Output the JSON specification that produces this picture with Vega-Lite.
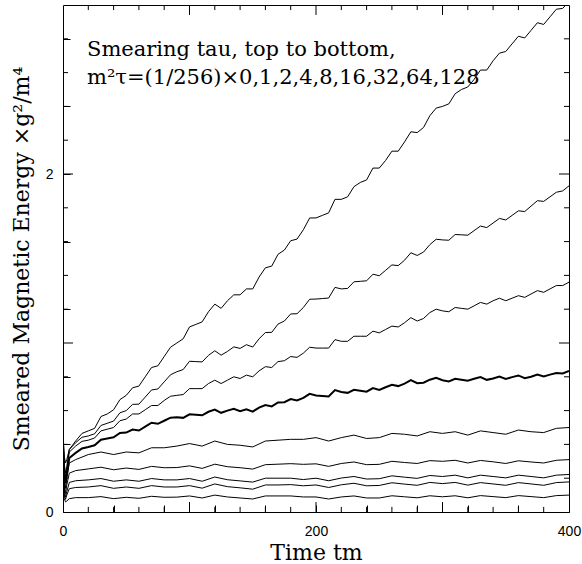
{
"$schema": "https://vega.github.io/schema/vega-lite/v6.json",
"width": 506, "height": 507,
"autosize": "none",
"padding": {"left": 63, "top": 5, "right": 13, "bottom": 52},
"background": "white",
"config": {"view": {"stroke": "black", "strokeWidth": 1}, "axis": {"grid": false, "domainColor": "black", "domainWidth": 1, "tickColor": "black", "tickWidth": 1, "labelColor": "black", "titleColor": "black", "labelFont": "Liberation Sans", "labelFontSize": 14, "titleFont": "DejaVu Serif", "titleFontSize": 22, "titleFontWeight": "normal", "labelFlush": false, "labelOverlap": false}},
"datasets": {
"xmajor": [{"t":100},{"t":200},{"t":300}],
"xminor": [{"t":20},{"t":40},{"t":60},{"t":80},{"t":120},{"t":140},{"t":160},{"t":180},{"t":220},{"t":240},{"t":260},{"t":280},{"t":320},{"t":340},{"t":360},{"t":380}],
"ymajor": [{"v":1},{"v":2}],
"yminor": [{"v":0.2},{"v":0.4},{"v":0.6},{"v":0.8},{"v":1.2},{"v":1.4},{"v":1.6},{"v":1.8},{"v":2.2},{"v":2.4},{"v":2.6},{"v":2.8}]
},
"data": {"values": [
{"c":1,"t":0,"v":0.44},{"c":1,"t":1,"v":0.33},{"c":1,"t":2,"v":0.29},{"c":1,"t":3,"v":0.31},{"c":1,"t":5,"v":0.37},{"c":1,"t":10,"v":0.42},{"c":1,"t":15,"v":0.465},{"c":1,"t":20,"v":0.48},{"c":1,"t":25,"v":0.495},{"c":1,"t":30,"v":0.565},{"c":1,"t":35,"v":0.58},{"c":1,"t":40,"v":0.605},{"c":1,"t":45,"v":0.665},{"c":1,"t":50,"v":0.69},{"c":1,"t":55,"v":0.735},{"c":1,"t":60,"v":0.745},{"c":1,"t":65,"v":0.80},{"c":1,"t":70,"v":0.855},{"c":1,"t":75,"v":0.865},{"c":1,"t":80,"v":0.92},{"c":1,"t":85,"v":0.975},{"c":1,"t":90,"v":1.0},{"c":1,"t":95,"v":1.025},{"c":1,"t":100,"v":1.095},{"c":1,"t":105,"v":1.11},{"c":1,"t":110,"v":1.125},{"c":1,"t":115,"v":1.185},{"c":1,"t":120,"v":1.23},{"c":1,"t":125,"v":1.205},{"c":1,"t":130,"v":1.25},{"c":1,"t":135,"v":1.285},{"c":1,"t":140,"v":1.285},{"c":1,"t":145,"v":1.32},{"c":1,"t":150,"v":1.32},{"c":1,"t":155,"v":1.39},{"c":1,"t":160,"v":1.445},{"c":1,"t":165,"v":1.455},{"c":1,"t":170,"v":1.525},{"c":1,"t":175,"v":1.55},{"c":1,"t":180,"v":1.605},{"c":1,"t":185,"v":1.615},{"c":1,"t":190,"v":1.67},{"c":1,"t":195,"v":1.74},{"c":1,"t":200,"v":1.74},{"c":1,"t":205,"v":1.755},{"c":1,"t":210,"v":1.77},{"c":1,"t":215,"v":1.85},{"c":1,"t":220,"v":1.85},{"c":1,"t":225,"v":1.865},{"c":1,"t":230,"v":1.925},{"c":1,"t":235,"v":1.95},{"c":1,"t":240,"v":1.965},{"c":1,"t":245,"v":2.035},{"c":1,"t":250,"v":2.035},{"c":1,"t":255,"v":2.08},{"c":1,"t":260,"v":2.135},{"c":1,"t":265,"v":2.135},{"c":1,"t":270,"v":2.19},{"c":1,"t":275,"v":2.25},{"c":1,"t":280,"v":2.245},{"c":1,"t":285,"v":2.275},{"c":1,"t":290,"v":2.345},{"c":1,"t":295,"v":2.39},{"c":1,"t":300,"v":2.4},{"c":1,"t":305,"v":2.415},{"c":1,"t":310,"v":2.475},{"c":1,"t":315,"v":2.5},{"c":1,"t":320,"v":2.515},{"c":1,"t":325,"v":2.56},{"c":1,"t":330,"v":2.615},{"c":1,"t":335,"v":2.615},{"c":1,"t":340,"v":2.67},{"c":1,"t":345,"v":2.715},{"c":1,"t":350,"v":2.725},{"c":1,"t":355,"v":2.77},{"c":1,"t":360,"v":2.815},{"c":1,"t":365,"v":2.805},{"c":1,"t":370,"v":2.85},{"c":1,"t":375,"v":2.895},{"c":1,"t":380,"v":2.885},{"c":1,"t":385,"v":2.93},{"c":1,"t":390,"v":2.975},{"c":1,"t":395,"v":2.98},{"c":1,"t":400,"v":3.02},
{"c":2,"t":0,"v":0.43},{"c":2,"t":1,"v":0.28},{"c":2,"t":2,"v":0.23},{"c":2,"t":3,"v":0.27},{"c":2,"t":5,"v":0.37},{"c":2,"t":10,"v":0.41},{"c":2,"t":15,"v":0.442},{"c":2,"t":20,"v":0.45},{"c":2,"t":25,"v":0.463},{"c":2,"t":30,"v":0.512},{"c":2,"t":35,"v":0.525},{"c":2,"t":40,"v":0.538},{"c":2,"t":45,"v":0.587},{"c":2,"t":50,"v":0.6},{"c":2,"t":55,"v":0.637},{"c":2,"t":60,"v":0.638},{"c":2,"t":65,"v":0.68},{"c":2,"t":70,"v":0.722},{"c":2,"t":75,"v":0.728},{"c":2,"t":80,"v":0.77},{"c":2,"t":85,"v":0.812},{"c":2,"t":90,"v":0.83},{"c":2,"t":95,"v":0.843},{"c":2,"t":100,"v":0.892},{"c":2,"t":105,"v":0.89},{"c":2,"t":110,"v":0.888},{"c":2,"t":115,"v":0.927},{"c":2,"t":120,"v":0.954},{"c":2,"t":125,"v":0.928},{"c":2,"t":130,"v":0.95},{"c":2,"t":135,"v":0.977},{"c":2,"t":140,"v":0.968},{"c":2,"t":145,"v":0.99},{"c":2,"t":150,"v":0.976},{"c":2,"t":155,"v":1.025},{"c":2,"t":160,"v":1.062},{"c":2,"t":165,"v":1.063},{"c":2,"t":170,"v":1.112},{"c":2,"t":175,"v":1.13},{"c":2,"t":180,"v":1.172},{"c":2,"t":185,"v":1.173},{"c":2,"t":190,"v":1.21},{"c":2,"t":195,"v":1.259},{"c":2,"t":200,"v":1.26},{"c":2,"t":205,"v":1.263},{"c":2,"t":210,"v":1.266},{"c":2,"t":215,"v":1.329},{"c":2,"t":220,"v":1.32},{"c":2,"t":225,"v":1.323},{"c":2,"t":230,"v":1.362},{"c":2,"t":235,"v":1.365},{"c":2,"t":240,"v":1.368},{"c":2,"t":245,"v":1.407},{"c":2,"t":250,"v":1.398},{"c":2,"t":255,"v":1.43},{"c":2,"t":260,"v":1.462},{"c":2,"t":265,"v":1.458},{"c":2,"t":270,"v":1.49},{"c":2,"t":275,"v":1.534},{"c":2,"t":280,"v":1.518},{"c":2,"t":285,"v":1.538},{"c":2,"t":290,"v":1.582},{"c":2,"t":295,"v":1.614},{"c":2,"t":300,"v":1.61},{"c":2,"t":305,"v":1.608},{"c":2,"t":310,"v":1.642},{"c":2,"t":315,"v":1.64},{"c":2,"t":320,"v":1.638},{"c":2,"t":325,"v":1.665},{"c":2,"t":330,"v":1.692},{"c":2,"t":335,"v":1.683},{"c":2,"t":340,"v":1.71},{"c":2,"t":345,"v":1.737},{"c":2,"t":350,"v":1.728},{"c":2,"t":355,"v":1.755},{"c":2,"t":360,"v":1.782},{"c":2,"t":365,"v":1.778},{"c":2,"t":370,"v":1.81},{"c":2,"t":375,"v":1.842},{"c":2,"t":380,"v":1.838},{"c":2,"t":385,"v":1.865},{"c":2,"t":390,"v":1.892},{"c":2,"t":395,"v":1.9},{"c":2,"t":400,"v":1.93},
{"c":3,"t":0,"v":0.43},{"c":3,"t":1,"v":0.26},{"c":3,"t":2,"v":0.2},{"c":3,"t":3,"v":0.25},{"c":3,"t":5,"v":0.355},{"c":3,"t":10,"v":0.39},{"c":3,"t":15,"v":0.418},{"c":3,"t":20,"v":0.425},{"c":3,"t":25,"v":0.438},{"c":3,"t":30,"v":0.48},{"c":3,"t":35,"v":0.49},{"c":3,"t":40,"v":0.5},{"c":3,"t":45,"v":0.54},{"c":3,"t":50,"v":0.55},{"c":3,"t":55,"v":0.58},{"c":3,"t":60,"v":0.58},{"c":3,"t":65,"v":0.605},{"c":3,"t":70,"v":0.63},{"c":3,"t":75,"v":0.63},{"c":3,"t":80,"v":0.66},{"c":3,"t":85,"v":0.685},{"c":3,"t":90,"v":0.69},{"c":3,"t":95,"v":0.695},{"c":3,"t":100,"v":0.73},{"c":3,"t":105,"v":0.73},{"c":3,"t":110,"v":0.73},{"c":3,"t":115,"v":0.76},{"c":3,"t":120,"v":0.78},{"c":3,"t":125,"v":0.76},{"c":3,"t":130,"v":0.78},{"c":3,"t":135,"v":0.8},{"c":3,"t":140,"v":0.79},{"c":3,"t":145,"v":0.81},{"c":3,"t":150,"v":0.8},{"c":3,"t":155,"v":0.835},{"c":3,"t":160,"v":0.86},{"c":3,"t":165,"v":0.855},{"c":3,"t":170,"v":0.89},{"c":3,"t":175,"v":0.895},{"c":3,"t":180,"v":0.92},{"c":3,"t":185,"v":0.915},{"c":3,"t":190,"v":0.94},{"c":3,"t":195,"v":0.975},{"c":3,"t":200,"v":0.97},{"c":3,"t":205,"v":0.97},{"c":3,"t":210,"v":0.97},{"c":3,"t":215,"v":1.02},{"c":3,"t":220,"v":1.01},{"c":3,"t":225,"v":1.01},{"c":3,"t":230,"v":1.04},{"c":3,"t":235,"v":1.04},{"c":3,"t":240,"v":1.04},{"c":3,"t":245,"v":1.07},{"c":3,"t":250,"v":1.06},{"c":3,"t":255,"v":1.08},{"c":3,"t":260,"v":1.1},{"c":3,"t":265,"v":1.095},{"c":3,"t":270,"v":1.12},{"c":3,"t":275,"v":1.15},{"c":3,"t":280,"v":1.13},{"c":3,"t":285,"v":1.145},{"c":3,"t":290,"v":1.18},{"c":3,"t":295,"v":1.2},{"c":3,"t":300,"v":1.19},{"c":3,"t":305,"v":1.185},{"c":3,"t":310,"v":1.21},{"c":3,"t":315,"v":1.205},{"c":3,"t":320,"v":1.2},{"c":3,"t":325,"v":1.22},{"c":3,"t":330,"v":1.24},{"c":3,"t":335,"v":1.23},{"c":3,"t":340,"v":1.25},{"c":3,"t":345,"v":1.265},{"c":3,"t":350,"v":1.25},{"c":3,"t":355,"v":1.265},{"c":3,"t":360,"v":1.28},{"c":3,"t":365,"v":1.27},{"c":3,"t":370,"v":1.29},{"c":3,"t":375,"v":1.31},{"c":3,"t":380,"v":1.3},{"c":3,"t":385,"v":1.32},{"c":3,"t":390,"v":1.34},{"c":3,"t":395,"v":1.34},{"c":3,"t":400,"v":1.36},
{"c":4,"t":0,"v":0.42},{"c":4,"t":1,"v":0.24},{"c":4,"t":2,"v":0.17},{"c":4,"t":3,"v":0.22},{"c":4,"t":5,"v":0.32},{"c":4,"t":10,"v":0.35},{"c":4,"t":15,"v":0.376},{"c":4,"t":20,"v":0.385},{"c":4,"t":25,"v":0.395},{"c":4,"t":30,"v":0.428},{"c":4,"t":35,"v":0.435},{"c":4,"t":40,"v":0.442},{"c":4,"t":45,"v":0.468},{"c":4,"t":50,"v":0.47},{"c":4,"t":55,"v":0.488},{"c":4,"t":60,"v":0.482},{"c":4,"t":65,"v":0.505},{"c":4,"t":70,"v":0.528},{"c":4,"t":75,"v":0.522},{"c":4,"t":80,"v":0.54},{"c":4,"t":85,"v":0.558},{"c":4,"t":90,"v":0.56},{"c":4,"t":95,"v":0.557},{"c":4,"t":100,"v":0.578},{"c":4,"t":105,"v":0.575},{"c":4,"t":110,"v":0.572},{"c":4,"t":115,"v":0.593},{"c":4,"t":120,"v":0.606},{"c":4,"t":125,"v":0.587},{"c":4,"t":130,"v":0.6},{"c":4,"t":135,"v":0.611},{"c":4,"t":140,"v":0.597},{"c":4,"t":145,"v":0.608},{"c":4,"t":150,"v":0.594},{"c":4,"t":155,"v":0.618},{"c":4,"t":160,"v":0.633},{"c":4,"t":165,"v":0.625},{"c":4,"t":170,"v":0.648},{"c":4,"t":175,"v":0.65},{"c":4,"t":180,"v":0.668},{"c":4,"t":185,"v":0.66},{"c":4,"t":190,"v":0.675},{"c":4,"t":195,"v":0.699},{"c":4,"t":200,"v":0.69},{"c":4,"t":205,"v":0.687},{"c":4,"t":210,"v":0.684},{"c":4,"t":215,"v":0.721},{"c":4,"t":220,"v":0.71},{"c":4,"t":225,"v":0.705},{"c":4,"t":230,"v":0.723},{"c":4,"t":235,"v":0.718},{"c":4,"t":240,"v":0.712},{"c":4,"t":245,"v":0.733},{"c":4,"t":250,"v":0.722},{"c":4,"t":255,"v":0.738},{"c":4,"t":260,"v":0.753},{"c":4,"t":265,"v":0.745},{"c":4,"t":270,"v":0.76},{"c":4,"t":275,"v":0.781},{"c":4,"t":280,"v":0.762},{"c":4,"t":285,"v":0.765},{"c":4,"t":290,"v":0.783},{"c":4,"t":295,"v":0.794},{"c":4,"t":300,"v":0.78},{"c":4,"t":305,"v":0.772},{"c":4,"t":310,"v":0.788},{"c":4,"t":315,"v":0.783},{"c":4,"t":320,"v":0.777},{"c":4,"t":325,"v":0.788},{"c":4,"t":330,"v":0.798},{"c":4,"t":335,"v":0.782},{"c":4,"t":340,"v":0.79},{"c":4,"t":345,"v":0.801},{"c":4,"t":350,"v":0.787},{"c":4,"t":355,"v":0.798},{"c":4,"t":360,"v":0.808},{"c":4,"t":365,"v":0.792},{"c":4,"t":370,"v":0.8},{"c":4,"t":375,"v":0.813},{"c":4,"t":380,"v":0.802},{"c":4,"t":385,"v":0.813},{"c":4,"t":390,"v":0.823},{"c":4,"t":395,"v":0.82},{"c":4,"t":400,"v":0.835},
{"c":5,"t":0,"v":0.41},{"c":5,"t":1,"v":0.2},{"c":5,"t":2,"v":0.14},{"c":5,"t":3,"v":0.2},{"c":5,"t":5,"v":0.29},{"c":5,"t":10,"v":0.31},{"c":5,"t":20,"v":0.34},{"c":5,"t":30,"v":0.355},{"c":5,"t":40,"v":0.34},{"c":5,"t":50,"v":0.355},{"c":5,"t":60,"v":0.35},{"c":5,"t":70,"v":0.38},{"c":5,"t":80,"v":0.38},{"c":5,"t":90,"v":0.39},{"c":5,"t":100,"v":0.405},{"c":5,"t":110,"v":0.39},{"c":5,"t":120,"v":0.42},{"c":5,"t":130,"v":0.4},{"c":5,"t":140,"v":0.395},{"c":5,"t":150,"v":0.385},{"c":5,"t":160,"v":0.42},{"c":5,"t":170,"v":0.425},{"c":5,"t":180,"v":0.43},{"c":5,"t":190,"v":0.43},{"c":5,"t":200,"v":0.44},{"c":5,"t":210,"v":0.42},{"c":5,"t":220,"v":0.44},{"c":5,"t":230,"v":0.455},{"c":5,"t":240,"v":0.435},{"c":5,"t":250,"v":0.44},{"c":5,"t":260,"v":0.465},{"c":5,"t":270,"v":0.46},{"c":5,"t":280,"v":0.45},{"c":5,"t":290,"v":0.475},{"c":5,"t":300,"v":0.465},{"c":5,"t":310,"v":0.475},{"c":5,"t":320,"v":0.455},{"c":5,"t":330,"v":0.48},{"c":5,"t":340,"v":0.47},{"c":5,"t":350,"v":0.46},{"c":5,"t":360,"v":0.485},{"c":5,"t":370,"v":0.475},{"c":5,"t":380,"v":0.47},{"c":5,"t":390,"v":0.495},{"c":5,"t":400,"v":0.5},
{"c":6,"t":0,"v":0.41},{"c":6,"t":1,"v":0.16},{"c":6,"t":2,"v":0.11},{"c":6,"t":3,"v":0.16},{"c":6,"t":5,"v":0.23},{"c":6,"t":10,"v":0.245},{"c":6,"t":20,"v":0.255},{"c":6,"t":30,"v":0.265},{"c":6,"t":40,"v":0.25},{"c":6,"t":50,"v":0.26},{"c":6,"t":60,"v":0.252},{"c":6,"t":70,"v":0.27},{"c":6,"t":80,"v":0.262},{"c":6,"t":90,"v":0.263},{"c":6,"t":100,"v":0.273},{"c":6,"t":110,"v":0.258},{"c":6,"t":120,"v":0.283},{"c":6,"t":130,"v":0.268},{"c":6,"t":140,"v":0.262},{"c":6,"t":150,"v":0.254},{"c":6,"t":160,"v":0.28},{"c":6,"t":170,"v":0.283},{"c":6,"t":180,"v":0.286},{"c":6,"t":190,"v":0.282},{"c":6,"t":200,"v":0.285},{"c":6,"t":210,"v":0.27},{"c":6,"t":220,"v":0.287},{"c":6,"t":230,"v":0.296},{"c":6,"t":240,"v":0.28},{"c":6,"t":250,"v":0.282},{"c":6,"t":260,"v":0.3},{"c":6,"t":270,"v":0.293},{"c":6,"t":280,"v":0.287},{"c":6,"t":290,"v":0.304},{"c":6,"t":300,"v":0.3},{"c":6,"t":310,"v":0.306},{"c":6,"t":320,"v":0.29},{"c":6,"t":330,"v":0.305},{"c":6,"t":340,"v":0.297},{"c":6,"t":350,"v":0.287},{"c":6,"t":360,"v":0.303},{"c":6,"t":370,"v":0.296},{"c":6,"t":380,"v":0.29},{"c":6,"t":390,"v":0.306},{"c":6,"t":400,"v":0.31},
{"c":7,"t":0,"v":0.4},{"c":7,"t":1,"v":0.13},{"c":7,"t":2,"v":0.09},{"c":7,"t":3,"v":0.12},{"c":7,"t":5,"v":0.175},{"c":7,"t":10,"v":0.185},{"c":7,"t":20,"v":0.19},{"c":7,"t":30,"v":0.198},{"c":7,"t":40,"v":0.182},{"c":7,"t":50,"v":0.19},{"c":7,"t":60,"v":0.182},{"c":7,"t":70,"v":0.198},{"c":7,"t":80,"v":0.19},{"c":7,"t":90,"v":0.19},{"c":7,"t":100,"v":0.198},{"c":7,"t":110,"v":0.182},{"c":7,"t":120,"v":0.207},{"c":7,"t":130,"v":0.191},{"c":7,"t":140,"v":0.184},{"c":7,"t":150,"v":0.177},{"c":7,"t":160,"v":0.2},{"c":7,"t":170,"v":0.2},{"c":7,"t":180,"v":0.2},{"c":7,"t":190,"v":0.192},{"c":7,"t":200,"v":0.2},{"c":7,"t":210,"v":0.185},{"c":7,"t":220,"v":0.201},{"c":7,"t":230,"v":0.21},{"c":7,"t":240,"v":0.195},{"c":7,"t":250,"v":0.197},{"c":7,"t":260,"v":0.214},{"c":7,"t":270,"v":0.206},{"c":7,"t":280,"v":0.199},{"c":7,"t":290,"v":0.216},{"c":7,"t":300,"v":0.21},{"c":7,"t":310,"v":0.218},{"c":7,"t":320,"v":0.202},{"c":7,"t":330,"v":0.218},{"c":7,"t":340,"v":0.21},{"c":7,"t":350,"v":0.202},{"c":7,"t":360,"v":0.218},{"c":7,"t":370,"v":0.21},{"c":7,"t":380,"v":0.202},{"c":7,"t":390,"v":0.218},{"c":7,"t":400,"v":0.222},
{"c":8,"t":0,"v":0.4},{"c":8,"t":1,"v":0.1},{"c":8,"t":2,"v":0.075},{"c":8,"t":3,"v":0.1},{"c":8,"t":5,"v":0.138},{"c":8,"t":10,"v":0.145},{"c":8,"t":20,"v":0.148},{"c":8,"t":30,"v":0.156},{"c":8,"t":40,"v":0.14},{"c":8,"t":50,"v":0.148},{"c":8,"t":60,"v":0.14},{"c":8,"t":70,"v":0.156},{"c":8,"t":80,"v":0.148},{"c":8,"t":90,"v":0.148},{"c":8,"t":100,"v":0.156},{"c":8,"t":110,"v":0.141},{"c":8,"t":120,"v":0.166},{"c":8,"t":130,"v":0.15},{"c":8,"t":140,"v":0.143},{"c":8,"t":150,"v":0.135},{"c":8,"t":160,"v":0.16},{"c":8,"t":170,"v":0.16},{"c":8,"t":180,"v":0.162},{"c":8,"t":190,"v":0.155},{"c":8,"t":200,"v":0.16},{"c":8,"t":210,"v":0.145},{"c":8,"t":220,"v":0.161},{"c":8,"t":230,"v":0.17},{"c":8,"t":240,"v":0.155},{"c":8,"t":250,"v":0.157},{"c":8,"t":260,"v":0.173},{"c":8,"t":270,"v":0.165},{"c":8,"t":280,"v":0.158},{"c":8,"t":290,"v":0.175},{"c":8,"t":300,"v":0.168},{"c":8,"t":310,"v":0.175},{"c":8,"t":320,"v":0.159},{"c":8,"t":330,"v":0.174},{"c":8,"t":340,"v":0.166},{"c":8,"t":350,"v":0.158},{"c":8,"t":360,"v":0.174},{"c":8,"t":370,"v":0.166},{"c":8,"t":380,"v":0.158},{"c":8,"t":390,"v":0.174},{"c":8,"t":400,"v":0.178},
{"c":9,"t":0,"v":0.4},{"c":9,"t":1,"v":0.08},{"c":9,"t":2,"v":0.06},{"c":9,"t":3,"v":0.065},{"c":9,"t":5,"v":0.079},{"c":9,"t":10,"v":0.085},{"c":9,"t":20,"v":0.085},{"c":9,"t":30,"v":0.091},{"c":9,"t":40,"v":0.079},{"c":9,"t":50,"v":0.087},{"c":9,"t":60,"v":0.081},{"c":9,"t":70,"v":0.093},{"c":9,"t":80,"v":0.087},{"c":9,"t":90,"v":0.088},{"c":9,"t":100,"v":0.095},{"c":9,"t":110,"v":0.083},{"c":9,"t":120,"v":0.1},{"c":9,"t":130,"v":0.089},{"c":9,"t":140,"v":0.083},{"c":9,"t":150,"v":0.077},{"c":9,"t":160,"v":0.095},{"c":9,"t":170,"v":0.095},{"c":9,"t":180,"v":0.095},{"c":9,"t":190,"v":0.089},{"c":9,"t":200,"v":0.089},{"c":9,"t":210,"v":0.077},{"c":9,"t":220,"v":0.089},{"c":9,"t":230,"v":0.095},{"c":9,"t":240,"v":0.083},{"c":9,"t":250,"v":0.083},{"c":9,"t":260,"v":0.096},{"c":9,"t":270,"v":0.09},{"c":9,"t":280,"v":0.084},{"c":9,"t":290,"v":0.096},{"c":9,"t":300,"v":0.09},{"c":9,"t":310,"v":0.096},{"c":9,"t":320,"v":0.084},{"c":9,"t":330,"v":0.097},{"c":9,"t":340,"v":0.091},{"c":9,"t":350,"v":0.085},{"c":9,"t":360,"v":0.097},{"c":9,"t":370,"v":0.091},{"c":9,"t":380,"v":0.085},{"c":9,"t":390,"v":0.097},{"c":9,"t":400,"v":0.1}
]},
"layer": [
{
"mark": {"type": "line", "color": "black", "clip": true},
"encoding": {
"x": {"field": "t", "type": "quantitative", "scale": {"domain": [0, 400], "nice": false, "zero": false},
"axis": {"orient": "bottom", "values": [0,20,40,60,80,100,120,140,160,180,200,220,240,260,280,300,320,340,360,380,400], "labelExpr": "datum.value % 100 === 0 ? format(datum.value, 'd') : ''", "labelOverlap": false, "labelBound": false, "domain": false, "offset": -7, "tickSize": 7, "labelPadding": 12, "title": "Time tm", "titlePadding": 4}},
"y": {"field": "v", "type": "quantitative", "scale": {"domain": [0, 3], "nice": false},
"axis": {"orient": "left", "values": [0,0.2,0.4,0.6,0.8,1,1.2,1.4,1.6,1.8,2,2.2,2.4,2.6,2.8,3], "labelExpr": "abs(datum.value - round(datum.value)) < 0.001 ? format(datum.value, 'd') : ''", "labelOverlap": false, "labelBound": false, "domain": false, "offset": -7, "tickSize": 7, "labelPadding": 10, "title": "Smeared Magnetic Energy ×g²/m⁴", "titlePadding": 12}},
"detail": {"field": "c", "type": "nominal"},
"strokeWidth": {"condition": {"test": "datum.c == 4", "value": 2}, "value": 1}
}
},
{"data": {"name": "xmajor"}, "mark": {"type": "rule", "color": "black", "strokeWidth": 1},
"encoding": {"x": {"field": "t", "type": "quantitative"}, "y": {"datum": 0}, "y2": {"datum": 0.059}}},
{"data": {"name": "xminor"}, "mark": {"type": "rule", "color": "black", "strokeWidth": 1},
"encoding": {"x": {"field": "t", "type": "quantitative"}, "y": {"datum": 0}, "y2": {"datum": 0.03}}},
{"data": {"name": "xmajor"}, "mark": {"type": "rule", "color": "black", "strokeWidth": 1},
"encoding": {"x": {"field": "t", "type": "quantitative"}, "y": {"datum": 3}, "y2": {"datum": 2.941}}},
{"data": {"name": "xminor"}, "mark": {"type": "rule", "color": "black", "strokeWidth": 1},
"encoding": {"x": {"field": "t", "type": "quantitative"}, "y": {"datum": 3}, "y2": {"datum": 2.97}}},
{"data": {"name": "ymajor"}, "mark": {"type": "rule", "color": "black", "strokeWidth": 1},
"encoding": {"y": {"field": "v", "type": "quantitative"}, "x": {"datum": 0}, "x2": {"datum": 7.9}}},
{"data": {"name": "yminor"}, "mark": {"type": "rule", "color": "black", "strokeWidth": 1},
"encoding": {"y": {"field": "v", "type": "quantitative"}, "x": {"datum": 0}, "x2": {"datum": 3.95}}},
{"data": {"name": "ymajor"}, "mark": {"type": "rule", "color": "black", "strokeWidth": 1},
"encoding": {"y": {"field": "v", "type": "quantitative"}, "x": {"datum": 400}, "x2": {"datum": 392.1}}},
{"data": {"name": "yminor"}, "mark": {"type": "rule", "color": "black", "strokeWidth": 1},
"encoding": {"y": {"field": "v", "type": "quantitative"}, "x": {"datum": 400}, "x2": {"datum": 396.05}}},
{
"data": {"values": [{}]},
"mark": {"type": "text", "text": ["Smearing tau, top to bottom,", "m²τ=(1/256)×0,1,2,4,8,16,32,64,128"], "font": "DejaVu Serif", "fontSize": 21, "lineHeight": 28, "align": "left", "baseline": "alphabetic", "color": "black"},
"encoding": {
"x": {"datum": 19, "type": "quantitative"},
"y": {"datum": 2.70, "type": "quantitative"}
}
}
]
}
